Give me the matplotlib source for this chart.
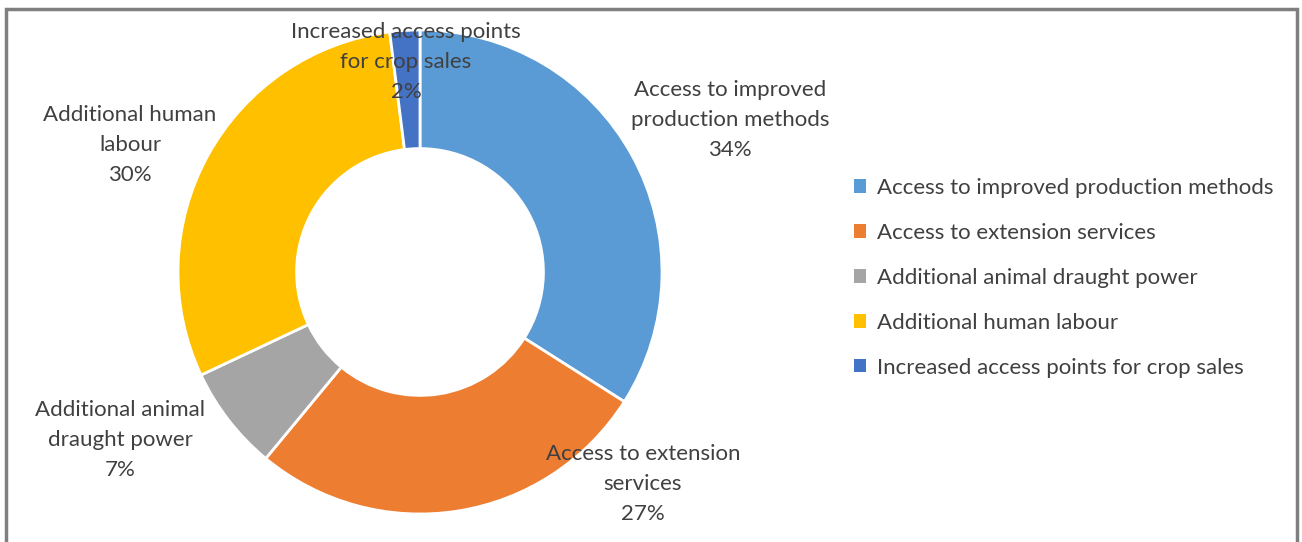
import matplotlib.pyplot as plt
from matplotlib.patches import Patch, Rectangle

labels = ["Access to improved production methods",
          "Access to extension services",
          "Additional animal draught power",
          "Additional human labour",
          "Increased access points for crop sales"]
values = [34, 27, 7, 30, 2]
slice_labels = ["Access to improved\nproduction methods",
                "Access to extension\nservices",
                "Additional animal\ndraught power",
                "Additional human\nlabour",
                "Increased access points\nfor crop sales"]
colors = ["#5B9BD5", "#ED7D31", "#A5A5A5", "#FFC000", "#4472C4"]

plt.rcParams['font.family'] = ['Lato', 'DejaVu Sans']
txt = "#404040"
W, H = 1302, 542

fig = plt.figure(figsize=(13.02, 5.42), dpi=100)
ax = fig.add_axes([0, 0, 1, 1])

# outer frame (open at the bottom)
ax.add_patch(Rectangle((6, -20), 1291, H - 9 + 20, fill=False, ec="#7f7f7f", lw=2.5))

# donut
cx, cy, r = 420, H - 272, 242
ax.pie(values, colors=colors, startangle=90, counterclock=False,
       center=(cx, cy), radius=r, frame=True,
       wedgeprops=dict(width=r * 0.49, edgecolor="white", linewidth=2))
ax.set_xlim(0, W)
ax.set_ylim(0, H)
ax.set_aspect("equal")
ax.axis("off")

# data labels
label_pos = [(730, 120), (643, 484), (120, 440), (130, 145), (406, 62)]
for (x, y), name, v in zip(label_pos, slice_labels, values):
    ax.text(x, H - y, f"{name}\n{v}%", ha="center", va="center", fontsize=16,
            color=txt, linespacing=1.6)

handles = [Patch(facecolor=c, edgecolor="none") for c in colors]
leg = fig.legend(handles, labels, loc="upper left",
                 bbox_to_anchor=(834 / W, 1 - 158 / H),
                 frameon=False, fontsize=16, handlelength=0.55, handleheight=0.55,
                 handletextpad=0.5, labelspacing=1.12)
for t in leg.get_texts():
    t.set_color(txt)

fig.savefig("out.png", dpi=100)
